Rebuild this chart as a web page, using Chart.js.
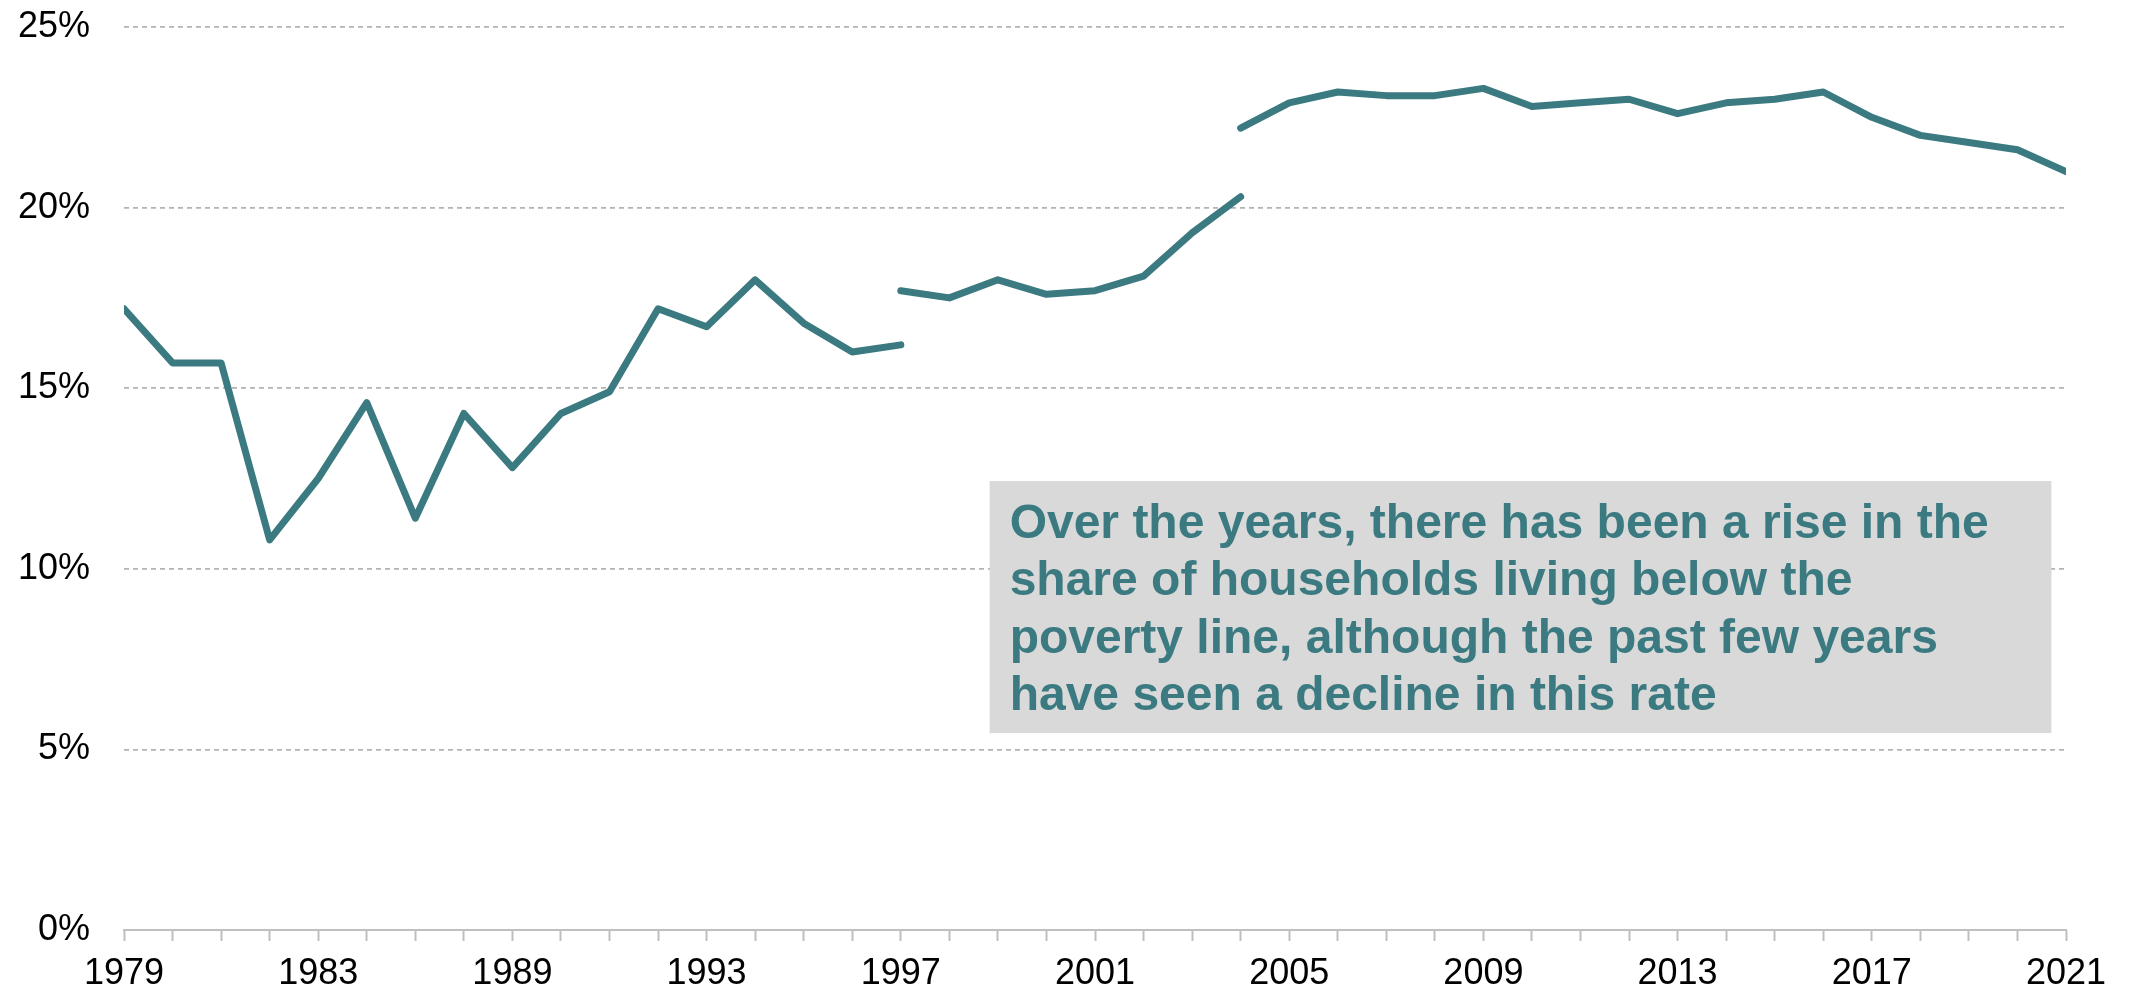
<!DOCTYPE html>
<html>
<head>
<meta charset="utf-8">
<title>Households below the poverty line</title>
<script src="https://cdn.jsdelivr.net/npm/chart.js@4.4.1/dist/chart.umd.min.js"></script>
<style>
  html, body { margin: 0; padding: 0; background: #fff; overflow: hidden; }
  #wrap { position: relative; width: 2131px; height: 993px; }
  #wrap canvas { display: block; }
</style>
</head>
<body>
<div id="wrap"><canvas id="povertyChart"></canvas></div>
<script>
// ---- data ----
const years = ['1979','1980','1981','1982','1983','1984','1985','1987','1989','1990',
  '1991','1992','1993','1994','1995','1996','1997','1998','1999','2000',
  '2001','2002','2003','2004','2005','2006','2007','2008','2009','2010',
  '2011','2012','2013','2014','2015','2016','2017','2018','2019','2020','2021'];
const shownYears = ['1979','1983','1989','1993','1997','2001','2005','2009','2013','2017','2021'];

// three survey series, each starting where the previous one breaks
const seriesA = [17.2, 15.7, 15.7, 10.8, 12.5, 14.6, 11.4, 14.3, 12.8, 14.3, 14.9, 17.2, 16.7, 18.0, 16.8, 16.0, 16.2];
const seriesB = [17.7, 17.5, 18.0, 17.6, 17.7, 18.1, 19.3, 20.3];
const seriesC = [22.2, 22.9, 23.2, 23.1, 23.1, 23.3, 22.8, 22.9, 23.0, 22.6, 22.9, 23.0, 23.2, 22.5, 22.0, 21.8, 21.6, 21.0];
const startB = '1997';
const startC = '2004';

const yTicks = [0, 5, 10, 15, 20, 25];

const noteLines = [
  'Over the years, there has been a rise in the',
  'share of households living below the',
  'poverty line, although the past few years',
  'have seen a decline in this rate'
];

// ---- style ----
const TEAL = '#3A7A80';
const GRID = '#B3B3B3';
const AXIS = '#BFBFBF';
const FONT = "'Liberation Sans', Arial, sans-serif";

function placeSeries(values, startYear) {
  const start = years.indexOf(startYear);
  const out = new Array(years.length).fill(null);
  values.forEach(function(v, i) { out[start + i] = v; });
  return out;
}

function lineSet(data) {
  return {
    data: data,
    borderColor: TEAL,
    backgroundColor: TEAL,
    borderWidth: 7,
    borderCapStyle: 'round',
    borderJoinStyle: 'round',
    pointRadius: 0,
    pointHoverRadius: 0,
    tension: 0,
    fill: false,
    spanGaps: false,
    clip: 0
  };
}

// grey call-out box, anchored on the scales
const noteBox = {
  id: 'noteBox',
  afterDatasetsDraw(chart) {
    const x = chart.scales.x, y = chart.scales.y, ctx = chart.ctx;
    const left = x.getPixelForValue(17.83), right = x.getPixelForValue(39.7);
    const top = y.getPixelForValue(12.43), bottom = y.getPixelForValue(5.45);
    ctx.save();
    ctx.fillStyle = '#D9D9D9';
    ctx.fillRect(left, top, right - left, bottom - top);
    ctx.fillStyle = TEAL;
    ctx.font = 'bold 48px ' + FONT;
    ctx.textBaseline = 'alphabetic';
    ctx.textAlign = 'left';
    noteLines.forEach(function(t, i) {
      ctx.fillText(t, left + 20, top + 57 + i * 57.3);
    });
    ctx.restore();
  }
};

new Chart(document.getElementById('povertyChart'), {
  type: 'line',
  data: {
    labels: years,
    datasets: [
      lineSet(placeSeries(seriesA, '1979')),
      lineSet(placeSeries(seriesB, startB)),
      lineSet(placeSeries(seriesC, startC))
    ]
  },
  options: {
    responsive: true,
    maintainAspectRatio: false,
    animation: false,
    events: [],
    layout: { padding: { top: 27, right: 65, bottom: 0, left: 0 } },
    plugins: {
      legend: { display: false },
      tooltip: { enabled: false }
    },
    scales: {
      x: {
        type: 'category',
        offset: false,
        afterFit: function(scale) {
          scale.height = 63;
          scale.paddingLeft = 0;
          scale.paddingRight = 0;
        },
        grid: {
          drawOnChartArea: false,
          drawTicks: true,
          tickLength: 11,
          tickWidth: 2,
          color: AXIS
        },
        border: { display: true, color: AXIS, width: 2 },
        ticks: {
          autoSkip: false,
          maxRotation: 0,
          padding: 11,
          color: '#000',
          font: { family: FONT, size: 36 },
          callback: function(v, i) {
            const yr = years[i];
            return shownYears.includes(yr) ? yr : '';
          }
        }
      },
      y: {
        min: 0,
        max: 25,
        afterFit: function(scale) {
          scale.width = 124;
          scale.paddingTop = 0;
          scale.paddingBottom = 0;
        },
        afterBuildTicks: function(scale) {
          scale.ticks = yTicks.map(function(v) { return { value: v }; });
        },
        grid: {
          drawTicks: false,
          lineWidth: 1.7,
          color: function(c) { return c.tick && c.tick.value === 0 ? 'rgba(0,0,0,0)' : GRID; }
        },
        border: { display: false, dash: [5, 4] },
        ticks: {
          padding: 34,
          color: '#000',
          font: { family: FONT, size: 36 },
          callback: function(v) { return v + '%'; }
        }
      }
    }
  },
  plugins: [noteBox]
});
</script>
</body>
</html>
